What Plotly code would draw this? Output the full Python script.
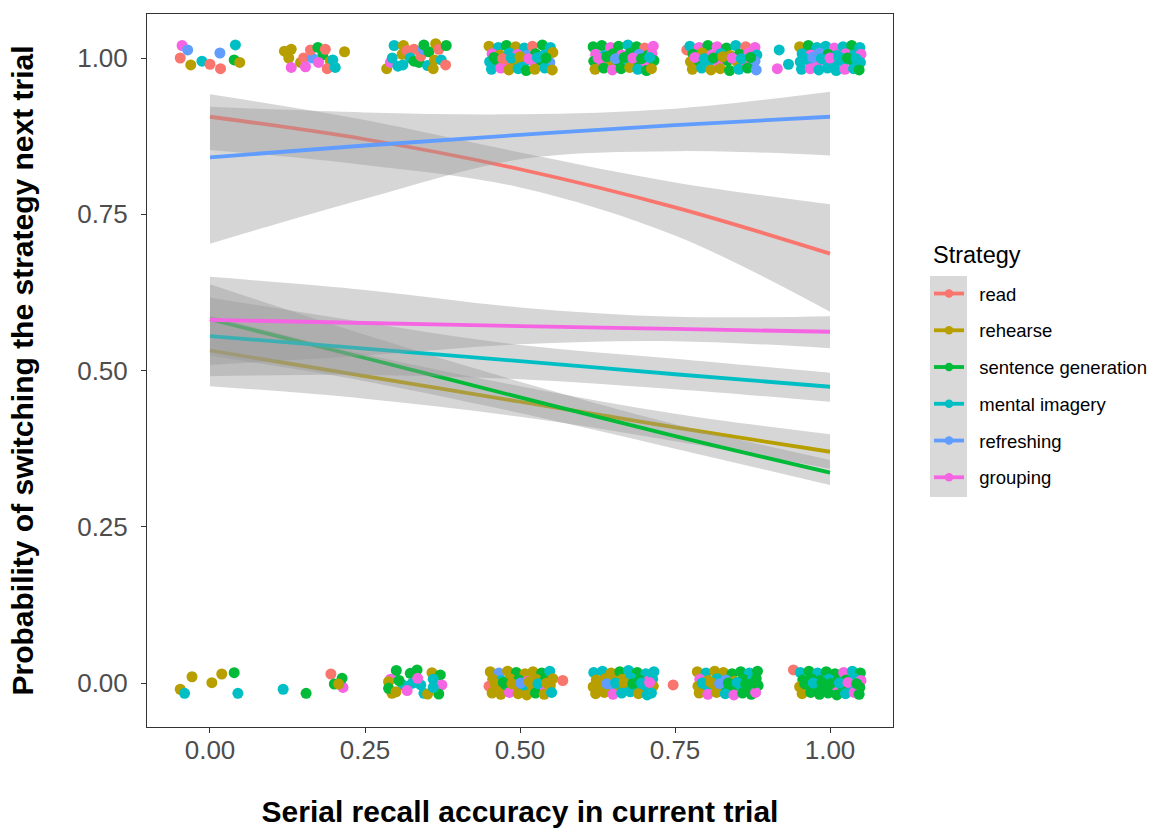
import plotly.graph_objects as go

# ---------------------------------------------------------------- data
strategies = ["read", "rehearse", "sentence generation", "mental imagery", "refreshing", "grouping"]
colors = ["#F8766D", "#B79F00", "#00BA38", "#00BFC4", "#619CFF", "#F564E3"]

tick_vals = [0.0, 0.25, 0.5, 0.75, 1.0]
tick_text = ["0.00", "0.25", "0.50", "0.75", "1.00"]

# logistic smooth per strategy: fitted probability and 95% band
acc_grid = [0.0, 0.25, 0.5, 0.75, 1.0]

fit_read = [0.906, 0.870, 0.822, 0.761, 0.687]
lo_read = [0.853, 0.829, 0.793, 0.716, 0.594]
hi_read = [0.942, 0.901, 0.849, 0.801, 0.766]

fit_rehearse = [0.532, 0.491, 0.450, 0.409, 0.370]
lo_rehearse = [0.475, 0.455, 0.426, 0.387, 0.343]
hi_rehearse = [0.588, 0.526, 0.475, 0.431, 0.398]

fit_sentence = [0.582, 0.520, 0.457, 0.395, 0.3365]
lo_sentence = [0.5235, 0.483, 0.432, 0.375, 0.3168]
hi_sentence = [0.638, 0.557, 0.482, 0.414, 0.3567]

fit_imagery = [0.555, 0.535, 0.515, 0.494, 0.474]
lo_imagery = [0.491, 0.493, 0.486, 0.470, 0.450]
hi_imagery = [0.617, 0.577, 0.541, 0.519, 0.4965]

fit_refresh = [0.841, 0.860, 0.877, 0.8925, 0.906]
lo_refresh = [0.703, 0.775, 0.838, 0.851, 0.844]
hi_refresh = [0.922, 0.913, 0.910, 0.919, 0.946]

fit_group = [0.581, 0.576, 0.571, 0.5665, 0.562]
lo_group = [0.509, 0.524, 0.542, 0.547, 0.5355]
hi_group = [0.650, 0.629, 0.601, 0.586, 0.587]

# individual trials (jittered): accuracy, switched (0/1), strategy index
jit_x = [
    # switched, accuracy ~0
    -0.045, -0.048, -0.036, -0.031, -0.013, 0.000, 0.016, 0.017, 0.041, 0.039, 0.048,
    # switched, accuracy ~1/6
    0.120, 0.131, 0.127, 0.131, 0.146, 0.151, 0.165, 0.162, 0.174, 0.154, 0.182, 0.186, 0.175, 0.194, 0.189, 0.202, 0.198, 0.217,
    # switched, accuracy ~1/3
    0.285, 0.291, 0.297, 0.294, 0.303, 0.312, 0.310, 0.311, 0.318, 0.329, 0.323, 0.329, 0.337, 0.340, 0.344, 0.345, 0.353, 0.351, 0.362, 0.360, 0.364, 0.369, 0.373, 0.381, 0.380,
    # switched, accuracy ~1/2
    0.450, 0.465, 0.478, 0.493, 0.507, 0.520, 0.536, 0.549,
    0.455, 0.468, 0.483, 0.496, 0.511, 0.525, 0.539, 0.553,
    0.451, 0.463, 0.479, 0.491, 0.506, 0.522, 0.534, 0.548,
    0.454, 0.469, 0.482, 0.497, 0.510, 0.524, 0.540, 0.552,
    # switched, accuracy ~2/3
    0.618, 0.632, 0.646, 0.659, 0.674, 0.688, 0.701, 0.715,
    0.622, 0.636, 0.650, 0.664, 0.678, 0.692, 0.706, 0.713,
    0.619, 0.633, 0.647, 0.660, 0.675, 0.689, 0.702, 0.716,
    0.621, 0.635, 0.649, 0.663, 0.677, 0.690, 0.704, 0.712,
    # switched, accuracy ~5/6
    0.769,
    0.774, 0.789, 0.803, 0.818, 0.833, 0.848, 0.864, 0.879,
    0.779, 0.794, 0.809, 0.824, 0.839, 0.854, 0.869, 0.882,
    0.775, 0.790, 0.805, 0.820, 0.835, 0.850, 0.865, 0.879,
    0.778, 0.793, 0.808, 0.823, 0.838, 0.853, 0.867, 0.881,
    0.918, 0.915, 0.933,
    # switched, accuracy ~1
    0.951, 0.965, 0.979, 0.993, 1.007, 1.021, 1.035, 1.048,
    0.955, 0.969, 0.983, 0.997, 1.011, 1.025, 1.039, 1.050,
    0.952, 0.966, 0.980, 0.994, 1.008, 1.022, 1.036, 1.049,
    0.954, 0.968, 0.982, 0.996, 1.010, 1.024, 1.038, 1.047,
    # stayed, accuracy ~0 .. 1/6
    -0.048, -0.041, -0.029, 0.003, 0.019, 0.039, 0.045, 0.118, 0.155, 0.195, 0.2145, 0.213, 0.2005, 0.2075,
    # stayed, accuracy ~1/3
    0.3005, 0.323, 0.334, 0.358, 0.3715, 0.291, 0.288, 0.311, 0.326, 0.340, 0.335, 0.360, 0.374, 0.2935, 0.288, 0.318, 0.345, 0.351, 0.369, 0.360, 0.305, 0.300,
    # stayed, accuracy ~1/2
    0.452, 0.466, 0.480, 0.494, 0.508, 0.521, 0.535, 0.548,
    0.456, 0.470, 0.484, 0.498, 0.512, 0.526, 0.540, 0.553,
    0.450, 0.464, 0.478, 0.492, 0.506, 0.520, 0.534, 0.549,
    0.455, 0.469, 0.483, 0.497, 0.511, 0.525, 0.539, 0.551,
    0.569,
    # stayed, accuracy ~2/3
    0.619, 0.633, 0.647, 0.661, 0.675, 0.689, 0.703, 0.716,
    0.623, 0.637, 0.651, 0.665, 0.679, 0.693, 0.707, 0.714,
    0.618, 0.632, 0.646, 0.660, 0.674, 0.688, 0.702, 0.715,
    0.622, 0.636, 0.650, 0.664, 0.678, 0.691, 0.705, 0.712,
    0.747,
    # stayed, accuracy ~5/6
    0.786, 0.800, 0.814, 0.828, 0.842, 0.856, 0.870, 0.883,
    0.790, 0.804, 0.818, 0.832, 0.846, 0.860, 0.874, 0.881,
    0.787, 0.801, 0.815, 0.829, 0.843, 0.857, 0.871, 0.884,
    0.789, 0.803, 0.817, 0.831, 0.845, 0.859, 0.873, 0.880,
    0.941,
    # stayed, accuracy ~1
    0.952, 0.966, 0.980, 0.994, 1.008, 1.022, 1.036, 1.049,
    0.956, 0.970, 0.984, 0.998, 1.012, 1.026, 1.040, 1.050,
    0.951, 0.965, 0.979, 0.993, 1.007, 1.021, 1.035, 1.048,
    0.955, 0.969, 0.983, 0.997, 1.011, 1.025, 1.039, 1.047,
    # trials sitting in the middle of the dense groups
    0.458, 0.472, 0.486, 0.500, 0.514, 0.528, 0.542,
    0.626, 0.640, 0.654, 0.668, 0.682, 0.696, 0.709,
    0.782, 0.797, 0.812, 0.827, 0.842, 0.857, 0.872,
    0.958, 0.972, 0.986, 1.000, 1.014, 1.028, 1.042,
    0.459, 0.473, 0.487, 0.501, 0.515, 0.529, 0.543,
    0.626, 0.640, 0.654, 0.668, 0.682, 0.696, 0.709,
    0.794, 0.808, 0.822, 0.836, 0.850, 0.864, 0.877,
    0.959, 0.973, 0.987, 1.001, 1.015, 1.029, 1.043,
]

jit_y = [
    1.020, 1.000, 1.013, 0.989, 0.995, 0.990, 1.008, 0.983, 1.021, 0.997, 0.993,
    1.011, 1.014, 1.000, 0.985, 0.993, 1.000, 1.000, 1.013, 1.017, 0.986, 1.005, 1.014, 0.993, 0.995, 0.983, 0.985, 0.997, 1.010,
    0.983, 0.993, 1.020, 1.000, 0.987, 1.020, 1.006, 0.989, 1.012, 1.014, 1.000, 0.995, 0.993, 1.003, 1.014, 1.021, 1.010, 0.988, 0.997, 0.983, 1.023, 1.014, 0.997, 1.020, 0.989,
    1.019, 1.017, 1.020, 1.018, 1.016, 1.019, 1.021, 1.017,
    1.007, 1.005, 1.008, 1.006, 1.004, 1.007, 1.005, 1.009,
    0.994, 0.996, 0.993, 0.995, 0.992, 0.994, 0.996, 0.993,
    0.982, 0.984, 0.981, 0.983, 0.980, 0.982, 0.984, 0.981,
    1.018, 1.020, 1.017, 1.019, 1.021, 1.018, 1.016, 1.019,
    1.006, 1.004, 1.007, 1.005, 1.008, 1.006, 1.004, 1.007,
    0.995, 0.993, 0.996, 0.994, 0.992, 0.995, 0.993, 0.996,
    0.982, 0.984, 0.981, 0.983, 0.985, 0.982, 0.980, 0.983,
    1.013,
    1.019, 1.017, 1.020, 1.018, 1.016, 1.020, 1.018, 1.017,
    1.006, 1.008, 1.005, 1.007, 1.004, 1.006, 1.008, 1.005,
    0.994, 0.992, 0.995, 0.993, 0.996, 0.994, 0.992, 0.995,
    0.982, 0.984, 0.981, 0.983, 0.980, 0.982, 0.984, 0.981,
    1.013, 0.983, 0.990,
    1.018, 1.020, 1.017, 1.019, 1.016, 1.018, 1.020, 1.017,
    1.007, 1.005, 1.008, 1.006, 1.004, 1.007, 1.005, 1.006,
    0.994, 0.996, 0.993, 0.995, 0.992, 0.994, 0.996, 0.993,
    0.982, 0.983, 0.981, 0.984, 0.980, 0.982, 0.983, 0.981,
    -0.010, -0.0165, 0.010, 0.0005, 0.0144, 0.0165, -0.0165, -0.010, -0.0165, 0.0144, -0.007, 0.0075, -0.0016, -0.0016,
    0.020, 0.0155, 0.021, 0.0165, 0.013, 0.006, 0.002, -0.003, -0.0005, -0.003, 0.0075, 0.006, -0.003, -0.0165, -0.0085, -0.012, -0.0165, -0.0176, -0.0176, -0.007, 0.004, -0.014,
    0.018, 0.016, 0.019, 0.017, 0.015, 0.018, 0.016, 0.019,
    0.006, 0.004, 0.007, 0.005, 0.003, 0.006, 0.004, 0.007,
    -0.005, -0.007, -0.004, -0.006, -0.008, -0.005, -0.007, -0.004,
    -0.016, -0.018, -0.015, -0.017, -0.019, -0.016, -0.018, -0.015,
    0.004,
    0.017, 0.019, 0.016, 0.018, 0.020, 0.017, 0.015, 0.018,
    0.005, 0.007, 0.004, 0.006, 0.008, 0.005, 0.003, 0.006,
    -0.006, -0.004, -0.007, -0.005, -0.003, -0.006, -0.008, -0.005,
    -0.017, -0.015, -0.018, -0.016, -0.014, -0.017, -0.019, -0.016,
    -0.003,
    0.018, 0.016, 0.019, 0.017, 0.015, 0.018, 0.016, 0.019,
    0.006, 0.004, 0.007, 0.005, 0.003, 0.006, 0.004, 0.007,
    -0.005, -0.007, -0.004, -0.006, -0.008, -0.005, -0.007, -0.004,
    -0.016, -0.018, -0.015, -0.017, -0.019, -0.016, -0.018, -0.015,
    0.021,
    0.017, 0.019, 0.016, 0.018, 0.015, 0.017, 0.019, 0.016,
    0.005, 0.007, 0.004, 0.006, 0.003, 0.005, 0.007, 0.004,
    -0.006, -0.004, -0.007, -0.005, -0.008, -0.006, -0.004, -0.007,
    -0.017, -0.015, -0.018, -0.016, -0.019, -0.017, -0.015, -0.018,
    1.001, 0.999, 1.000, 1.002, 0.999, 1.001, 1.000,
    1.000, 1.002, 0.999, 1.001, 1.000, 0.999, 1.001,
    1.001, 0.999, 1.000, 1.002, 1.000, 0.999, 1.001,
    1.000, 1.001, 0.999, 1.000, 1.002, 1.000, 0.999,
    0.000, 0.001, -0.001, 0.000, 0.002, -0.001, 0.000,
    0.001, -0.001, 0.000, 0.001, -0.001, 0.000, 0.001,
    0.000, 0.001, -0.001, 0.000, 0.001, -0.001, 0.000,
    -0.001, 0.000, 0.001, -0.001, 0.000, 0.001, -0.001,
]

jit_s = [
    5, 0, 4, 1, 3, 0, 4, 0, 3, 2, 1,
    1, 1, 1, 5, 1, 0, 4, 0, 2, 5, 2, 0, 5, 1, 0, 3, 3, 1,
    1, 5, 3, 3, 3, 1, 1, 3, 0, 0, 3, 2, 2, 0, 4, 2, 2, 3, 1, 1, 1, 0, 3, 2, 0,
    1, 3, 2, 1, 3, 0, 2, 3,
    5, 1, 3, 5, 4, 2, 3, 1,
    3, 2, 0, 1, 3, 5, 2, 4,
    3, 5, 1, 3, 2, 1, 3, 1,
    2, 2, 5, 2, 3, 2, 0, 5,
    5, 3, 2, 5, 2, 4, 2, 5,
    2, 5, 1, 2, 3, 2, 5, 2,
    1, 2, 5, 2, 1, 3, 2, 1,
    0,
    3, 5, 2, 5, 2, 3, 0, 5,
    2, 1, 5, 3, 1, 2, 5, 3,
    1, 2, 3, 5, 2, 1, 5, 4,
    1, 3, 1, 1, 2, 3, 2, 4,
    3, 5, 3,
    1, 2, 3, 3, 5, 3, 2, 3,
    3, 5, 4, 2, 3, 5, 3, 5,
    3, 3, 5, 4, 3, 3, 2, 3,
    3, 5, 3, 3, 3, 5, 3, 2,
    1, 3, 1, 1, 1, 2, 3, 3, 2, 0, 5, 2, 2, 1,
    2, 2, 2, 1, 2, 5, 1, 3, 3, 3, 5, 3, 5, 1, 2, 5, 3, 1, 2, 3, 2, 1,
    1, 4, 1, 2, 1, 1, 2, 3,
    1, 3, 1, 2, 5, 1, 2, 1,
    0, 1, 2, 1, 3, 1, 5, 1,
    1, 1, 5, 1, 1, 2, 1, 3,
    0,
    3, 3, 1, 2, 3, 2, 3, 3,
    1, 1, 1, 1, 3, 2, 5, 3,
    1, 1, 4, 1, 3, 3, 3, 1,
    1, 1, 5, 3, 3, 1, 3, 3,
    0,
    1, 3, 1, 1, 2, 2, 3, 2,
    5, 1, 3, 4, 1, 2, 3, 2,
    1, 3, 1, 2, 2, 3, 2, 2,
    1, 5, 1, 3, 5, 2, 2, 5,
    0,
    3, 2, 3, 2, 2, 5, 3, 2,
    2, 2, 2, 3, 2, 2, 3, 5,
    1, 2, 2, 2, 5, 2, 3, 2,
    1, 2, 2, 2, 2, 3, 5, 2,
    2, 0, 3, 1, 5, 3, 2,
    5, 2, 4, 2, 5, 2, 3,
    5, 3, 2, 1, 5, 3, 2,
    3, 4, 3, 5, 3, 2, 3,
    1, 2, 1, 4, 1, 3, 1,
    1, 4, 3, 1, 2, 3, 5,
    3, 1, 4, 2, 3, 2, 2,
    2, 3, 2, 2, 3, 5, 2,
]

smooths = [
    (fit_read, lo_read, hi_read),
    (fit_rehearse, lo_rehearse, hi_rehearse),
    (fit_sentence, lo_sentence, hi_sentence),
    (fit_imagery, lo_imagery, hi_imagery),
    (fit_refresh, lo_refresh, hi_refresh),
    (fit_group, lo_group, hi_group),
]

# ---------------------------------------------------------------- figure
W, H = 1155, 828
M_L, M_R, M_T, M_B = 147, 262, 14, 101
FONT = "Liberation Sans, Arial, Helvetica, sans-serif"
BAND = "rgba(153,153,153,0.4)"
KEY_PAD = "\u00a0\u00a0"  # gap between legend key and label

fig = go.Figure()

fig.add_trace(go.Scatter(
    x=jit_x, y=jit_y, mode="markers",
    marker=dict(size=11, color=[colors[s] for s in jit_s], line=dict(width=0)),
    showlegend=False, hoverinfo="skip",
))

# each group: confidence band, then its fitted curve
for name, col, (fit, lo, hi) in zip(strategies, colors, smooths):
    fig.add_trace(go.Scatter(
        x=acc_grid, y=lo, mode="lines", line=dict(width=0, shape="spline"),
        showlegend=False, hoverinfo="skip",
    ))
    fig.add_trace(go.Scatter(
        x=acc_grid, y=hi, mode="lines", line=dict(width=0, shape="spline"),
        fill="tonexty", fillcolor=BAND, showlegend=False, hoverinfo="skip",
    ))
    fig.add_trace(go.Scatter(
        x=acc_grid, y=fit, mode="lines", line=dict(color=col, width=3.8, shape="spline"),
        showlegend=False, name=name,
    ))

# legend keys (line + point)
for name, col in zip(strategies, colors):
    fig.add_trace(go.Scatter(
        x=[None], y=[None], mode="lines+markers", name=KEY_PAD + name, legendgroup=name,
        line=dict(color=col, width=3.8), marker=dict(color=col, size=8.5),
    ))

plot_w = W - M_L - M_R
plot_h = H - M_T - M_B


def px_x(p):
    return (p - M_L) / plot_w


def px_y(p):
    return (H - M_B - p) / plot_h


# grey background behind legend keys
fig.add_shape(type="rect", xref="paper", yref="paper",
              x0=px_x(930), x1=px_x(967), y0=px_y(497), y1=px_y(276),
              fillcolor="#D9D9D9", line=dict(width=0), layer="below")

# legend heading
fig.add_annotation(text="Strategy", xref="paper", yref="paper",
                   x=px_x(931), y=px_y(255), xanchor="left", yanchor="middle",
                   showarrow=False, font=dict(family=FONT, size=23.5, color="black"))

axis_common = dict(
    showgrid=False, zeroline=False, showline=True, mirror=True,
    linecolor="#333333", linewidth=1,
    ticks="outside", ticklen=5, tickcolor="#333333", tickwidth=1,
    tickvals=tick_vals, ticktext=tick_text,
    tickfont=dict(family=FONT, size=26, color="#4D4D4D"),
)

fig.update_layout(
    width=W, height=H,
    margin=dict(l=M_L, r=M_R, t=M_T, b=M_B, autoexpand=False),
    paper_bgcolor="white", plot_bgcolor="white",
    font=dict(family=FONT, color="black"),
    xaxis=dict(range=[-0.1016, 1.1016],
               title=dict(text="Serial recall accuracy in current trial",
                          font=dict(family=FONT, size=30, weight="bold", color="black"),
                          standoff=36),
               ticklabelstandoff=-5,
               **axis_common),
    yaxis=dict(range=[-0.0704, 1.0704],
               title=dict(text="Probability of switching the strategy next trial",
                          font=dict(family=FONT, size=30, weight="bold", color="black"),
                          standoff=34),
               ticklabelstandoff=8,
               **axis_common),
    legend=dict(
        x=px_x(929), y=px_y(275), xanchor="left", yanchor="top",
        bgcolor="rgba(0,0,0,0)",
        font=dict(family=FONT, size=18.5, color="black"),
        tracegroupgap=9.7, itemwidth=30,
    ),
)

fig.write_html("out.html")
